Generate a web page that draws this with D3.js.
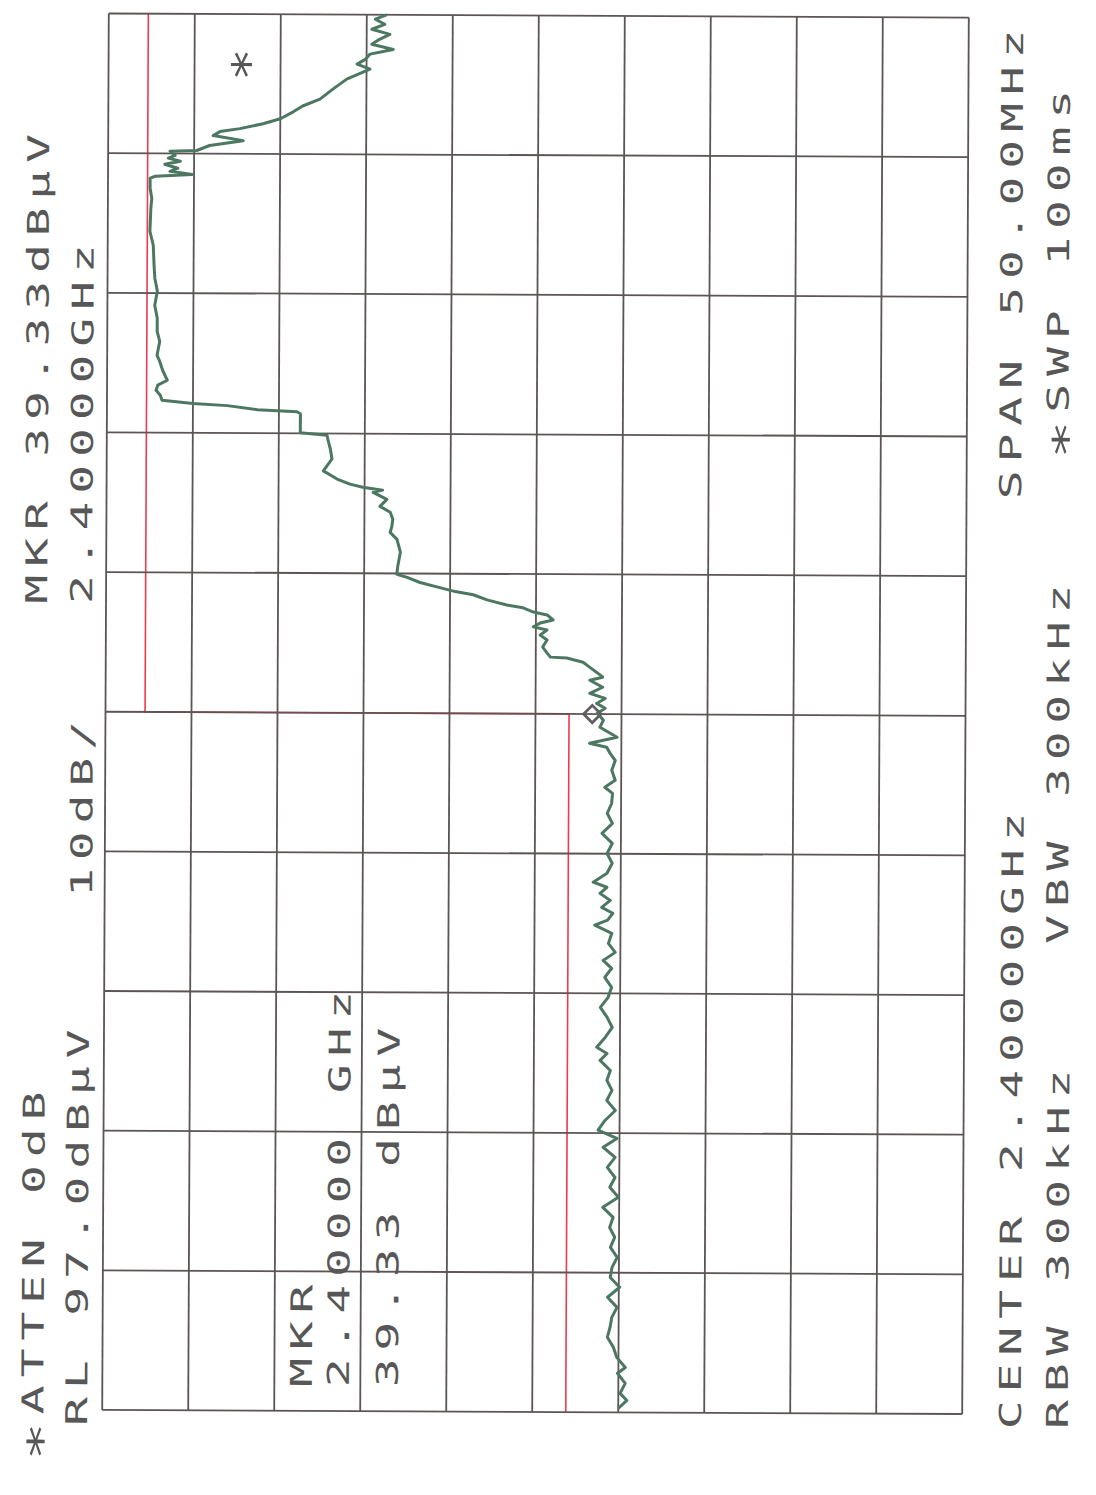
<!DOCTYPE html>
<html><head><meta charset="utf-8">
<script src="https://cdn.jsdelivr.net/npm/d3@7"></script>
<style>html,body{margin:0;padding:0;background:#fff;}</style>
</head><body>
<script>
// ---- data (frequency in MHz, level in dBµV) ----
const freqMHz = [2375.14,2375.43,2375.68,2376.04,2376.40,2376.61,2376.97,2377.33,2377.69,2378.04,
2378.40,2378.76,2379.12,2379.48,2379.83,2380.19,2380.55,2380.91,2381.27,2381.62,
2381.98,2382.34,2382.70,2383.06,2383.41,2383.77,2384.13,2384.49,2384.81,2385.10,
2385.45,2385.81,2386.17,2386.53,2386.89,
2387.24,2387.60,2387.85,2388.07,2388.43,2388.78,2389.14,2389.50,2389.86,2390.22,
2390.57,2390.90,2391.18,2391.47,2391.79,2392.15,2392.44,2392.62,2392.87,2393.08,
2393.33,2393.58,2393.80,2393.98,2394.30,2394.66,2395.01,2395.37,2395.73,2396.09,
2396.45,2396.80,2397.16,2397.38,2397.63,2397.99,2398.34,
2398.59,2398.81,2398.95,2399.17,2399.53,2399.78,2400.03,2400.21,2400.38,2400.56,
2400.74,2400.96,2401.21,2401.32,2401.49,2401.67,2401.85,2402.00,2402.03,2402.18,
2402.39,2402.64,2402.82,2403.00,2403.11,2403.25,2403.36,2403.54,2403.64,2403.79,
2403.89,2404.07,2404.25,2404.36,2404.50,2404.68,2404.86,2404.97,
2405.25,2405.76,2406.22,2406.47,2406.69,2406.94,2407.19,2407.40,2407.65,2407.90,
2407.98,2408.08,2408.19,2408.37,2408.66,2409.09,2409.44,2409.80,2409.94,2410.02,
2410.70,2410.77,2410.84,2410.98,2411.05,2411.16,2411.34,2411.52,2411.70,2411.88,
2412.20,2412.56,2412.77,2413.27,2413.63,2414.10,2414.56,2415.06,2415.53,2416.00,
2416.71,2417.21,2418.04,2418.39,2418.75,2419.11,
2419.18,2419.25,2419.36,2419.47,2419.61,2419.72,2419.83,2419.93,2420.08,2420.11,
2420.29,2420.47,2420.65,2420.79,2420.90,2421.08,2421.26,2421.51,2421.72,2421.97,
2422.33,2422.69,2423.05,2423.23,2423.41,2423.59,2423.76,2423.94,2424.12,2424.30,
2424.48,2424.66,2424.84,2425.00];

const levelDb = [37.0,36.0,36.8,36.2,37.1,36.2,37.2,37.6,38.3,38.0,
37.8,37.2,38.3,36.9,38.0,37.8,37.2,38.0,37.5,38.1,
37.7,38.9,37.1,38.1,37.5,38.4,37.5,38.9,37.3,39.5,
38.7,37.5,38.5,37.9,38.5,
38.1,39.3,38.5,39.7,38.7,37.9,38.5,39.3,38.4,38.0,
38.8,38.0,39.0,37.6,38.4,38.0,40.0,38.5,37.9,39.2,
38.2,39.4,38.6,40.2,38.6,38.0,38.6,38.0,39.2,38.0,
38.6,38.1,38.0,38.9,37.7,38.1,37.7,
38.3,38.7,40.7,37.5,39.5,39.1,39.8,38.9,39.9,38.9,
40.7,39.2,40.7,39.2,39.9,40.7,41.5,43.4,45.3,45.7,
46.2,45.7,46.5,45.7,47.3,46.5,45.0,45.7,47.3,48.5,
50.4,52.7,54.3,56.4,58.2,60.5,62.0,63.2,
63.1,62.8,63.2,64.0,63.8,63.7,64.0,65.2,64.4,66.0,
64.9,67.2,68.7,70.2,71.8,70.8,71.0,71.3,71.4,74.5,
74.5,74.9,79.5,83.0,87.0,90.6,90.8,91.3,91.1,90.0,
90.5,90.9,91.2,90.9,91.2,91.2,91.5,91.2,91.5,91.6,
91.7,92.1,92.0,91.9,92.1,92.1,
91.5,87.2,89.8,88.9,90.4,88.6,90.0,89.2,89.8,86.7,
85.2,81.3,84.8,84.0,81.7,79.0,77.0,75.5,74.4,72.4,
70.9,69.3,66.6,68.1,67.1,66.6,63.9,66.4,65.5,64.3,
66.4,64.9,66.0,64.7];

const limitFreq = [2375, 2400, 2400, 2425];
const limitDb   = [43.1, 43.1, 92.4, 92.4];

const markerFreq = [2400];
const markerDb   = [40.4];

const ampTicks  = [97, 87, 77, 67, 57, 47, 37, 27, 17, 7, -3];
const freqTicks = [2375, 2380, 2385, 2390, 2395, 2400, 2405, 2410, 2415, 2420, 2425];

const labels = ["*ATTEN 0dB", "RL 97.0dBµV", "10dB/", "MKR 39.33dBµV", "2.40000GHz",
  "MKR", "2.40000 GHz", "39.33 dBµV",
  "CENTER 2.40000GHz", "SPAN 50.00MHz", "RBW 300kHz", "VBW 300kHz", "*SWP 100ms"];
const starLabel = "*";

// ---- drawing ----
const W = 1096, H = 1495;
const svg = d3.select("body").append("svg").attr("width", W).attr("height", H)
  .style("display", "block");
svg.append("rect").attr("width", W).attr("height", H).attr("fill", "#fff");

const g = svg.append("g").attr("transform", "rotate(0.27,535,713)");

// level runs left (top of screen) -> right; frequency runs bottom -> top
const amp  = d3.scaleLinear().domain([97, -3]).range([105.5, 965.5]);
const freq = d3.scaleLinear().domain([2375, 2425]).range([1412, 15.5]);

// limit line
const limitPts = limitFreq.map((f, i) => ({ f, a: limitDb[i] }));
g.append("path").datum(limitPts)
  .attr("d", d3.line().x(d => amp(d.a)).y(d => freq(d.f)))
  .attr("fill", "none").attr("stroke", "#ee3a4e").attr("stroke-width", 1.6);

// grid
const gridColor = "#5d5454";
g.append("g").selectAll("line").data(ampTicks).join("line")
  .attr("x1", d => amp(d)).attr("x2", d => amp(d))
  .attr("y1", freq(2425)).attr("y2", freq(2375))
  .attr("stroke", gridColor).attr("stroke-width", 1.8);
g.append("g").selectAll("line").data(freqTicks).join("line")
  .attr("y1", d => freq(d)).attr("y2", d => freq(d))
  .attr("x1", amp(97)).attr("x2", amp(-3))
  .attr("stroke", gridColor).attr("stroke-width", 1.8);

// trace
const trace = freqMHz.map((f, i) => ({ f, a: levelDb[i] }));
g.append("path").datum(trace)
  .attr("d", d3.line().x(d => amp(d.a)).y(d => freq(d.f)))
  .attr("fill", "none").attr("stroke", "#4c7862").attr("stroke-width", 3)
  .attr("stroke-linejoin", "round");

// marker
g.append("g").selectAll("path").data(markerFreq.map((f, i) => ({ f, a: markerDb[i] }))).join("path")
  .attr("transform", d => `translate(${amp(d.a)},${freq(d.f)}) rotate(45)`)
  .attr("d", d3.symbol(d3.symbolSquare, 150))
  .attr("fill", "none").attr("stroke", "#5f5f5f").attr("stroke-width", 2.8);

// text (rotated, reading bottom to top)
const pos = [
  [46.5, 1463], [90.4, 1428], [92.9, 899], [46.5, 606], [91.5, 606],
  [315, 1388], [352, 1388], [401, 1388],
  [1024, 1427], [1020, 497], [1071, 1426.5], [1069, 941.5], [1067, 456.5]
];
const SX = 1.6;
const textColor = "#575757";
const txt = g.append("g").selectAll("text").data(labels).join("text")
  .attr("transform", (d, i) => `translate(${pos[i][0]},${pos[i][1]}) rotate(-90) scale(${SX},1)`)
  .attr("font-family", "'DejaVu Sans Mono', monospace")
  .attr("font-size", 30)
  .attr("letter-spacing", 4.9)
  .attr("fill", textColor)
  .style("white-space", "pre");

txt.each(function (d) {
  const t = d3.select(this);
  if (d.startsWith("*")) {
    // larger plotter-style asterisk, centred on the cap height
    t.append("tspan").attr("font-size", 40).attr("dy", 13).text("*");
    t.append("tspan").attr("dy", -13).text(d.slice(1));
  } else {
    t.text(d);
  }
});

g.append("text")
  .attr("transform", `translate(262,66) rotate(-90) scale(1.2,1)`)
  .attr("text-anchor", "middle")
  .attr("font-family", "'DejaVu Sans Mono', monospace")
  .attr("font-size", 46)
  .attr("fill", textColor)
  .text(starLabel);
</script>
</body></html>
